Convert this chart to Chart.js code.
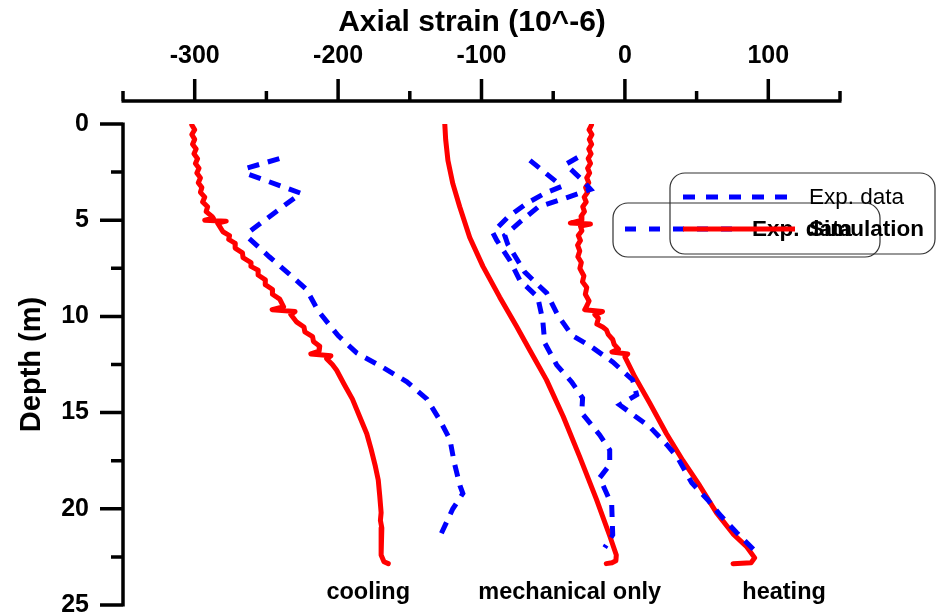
<!DOCTYPE html>
<html>
<head>
<meta charset="utf-8">
<script src="https://cdn.jsdelivr.net/npm/chart.js@4.4.1/dist/chart.umd.min.js"></script>
<style>
  body { margin: 0; background: #fff; }
  #wrap { width: 936px; height: 616px; }
</style>
</head>
<body>
<div id="wrap"><canvas id="strainChart" width="936" height="616"></canvas></div>
<script>
// tick values
var strainTicks = [-300, -200, -100, 0, 100];
var strainMinor = [-350, -250, -150, -50, 50, 150];
var depthTicks = [0, 5, 10, 15, 20, 25];
var depthMinor = [2.5, 7.5, 12.5, 17.5, 22.5];

// cooling case
var coolSimStrain = [-302, -300, -302, -300, -301.5, -299, -300.5, -298, -299.5, -297, -298.5, -296, -297.5, -295, -296, -293, -294.5, -291, -292, -288, -287, -293, -278, -284, -280.3, -275.7, -276.3, -271.7, -271.8, -266.7, -266.3, -260.7, -260.8, -255.7, -255.8, -250.7, -250.8, -245.7, -245.8, -240.7, -238, -246, -230, -233, -228.8, -223.8, -223.2, -217.8, -217.2, -212.8, -213.2, -219, -205, -208, -204, -201, -196, -190, -185, -180, -177, -174, -172, -171, -170, -170.5, -169.5, -170, -170, -170, -168, -165];
var coolSimDepth = [0.05, 0.3, 0.55, 0.8, 1.05, 1.3, 1.55, 1.8, 2.05, 2.3, 2.55, 2.8, 3.05, 3.3, 3.55, 3.8, 4.05, 4.3, 4.55, 4.8, 4.9, 5.0, 5.05, 5.15, 5.6, 5.8, 6.0, 6.2, 6.45, 6.7, 6.95, 7.2, 7.4, 7.6, 7.85, 8.1, 8.35, 8.6, 8.85, 9.1, 9.5, 9.65, 9.75, 9.9, 10.3, 10.55, 10.8, 11.05, 11.3, 11.55, 11.8, 11.95, 12.05, 12.2, 12.5, 12.8, 13.5, 14.3, 15.2, 16.1, 16.9, 17.8, 18.5, 19.3, 20.2, 20.6, 21.0, 21.4, 21.8, 22.4, 22.75, 22.85];
var coolExpStrain = [-241, -264, -263, -226, -262, -262, -248, -234, -222, -214, -200, -187, -170, -152, -138, -129, -122, -119, -115, -113, -120, -130];
var coolExpDepth = [1.8, 2.3, 2.6, 3.6, 5.6, 5.95, 6.9, 7.8, 8.6, 9.7, 11.0, 11.9, 12.6, 13.4, 14.3, 15.4, 16.4, 17.6, 18.8, 19.2, 20.0, 21.6];

// mechanical only case
var mechSimStrain = [-125.6, -125, -123.4, -120, -115.2, -108.2, -99, -87.3, -75.7, -66.4, -54.7, -43, -31.5, -19.9, -10.6, -6, -6.3, -9, -13];
var mechSimDepth = [0, 0.8, 1.9, 3.1, 4.3, 5.9, 7.4, 9.0, 10.5, 11.75, 13.3, 15.2, 17.3, 19.5, 21.4, 22.4, 22.7, 22.8, 22.85];
var mechExpStrain = [-66.2, -43.9, -55.8, -68.4, -81.7, -92.2, -89.4, -80.3, -73.3, -60.8, -57.3, -55.9, -47.5, -37.1, -29.5, -30.1, -17.6, -10.6, -10.6, -17.6, -9.2, -8.5, -14.1];
var mechExpDepth = [1.89, 3.24, 3.6, 4.12, 4.85, 5.63, 6.04, 7.08, 8.12, 9.0, 10.19, 11.38, 12.53, 13.41, 14.24, 15.02, 16.16, 16.94, 17.71, 18.39, 19.79, 21.35, 22.02];

// heating case
var heatSimStrain = [-23.3, -25, -23, -24.8, -23.2, -25.2, -23.6, -25.6, -24, -26, -24.6, -26.6, -25.2, -27.4, -26, -28.4, -27, -29.4, -28.2, -30.6, -30, -38, -24, -31, -30, -32.5, -31, -33, -31.5, -32.8, -30.4, -31.4, -28.6, -29.6, -26.6, -27.6, -25, -26.5, -28, -15.6, -21, -18.5, -19.6, -15.5, -12.9, -11.5, -8.5, -7.5, -4.5, -9, 2, 0, 7, 17.3, 29, 40.5, 52.2, 63.8, 75.4, 84.7, 90.5, 88, 75.4];
var heatSimDepth = [0.05, 0.3, 0.55, 0.8, 1.05, 1.3, 1.55, 1.8, 2.05, 2.3, 2.55, 2.8, 3.05, 3.3, 3.55, 3.8, 4.05, 4.3, 4.55, 4.8, 5.0, 5.15, 5.2, 5.3, 5.55, 5.8, 6.05, 6.3, 6.6, 6.9, 7.2, 7.5, 7.9, 8.2, 8.5, 8.85, 9.2, 9.45, 9.65, 9.75, 9.9, 10.1, 10.4, 10.55, 10.7, 10.95, 11.2, 11.45, 11.7, 11.85, 11.95, 12.1, 13.15, 14.5, 16.1, 17.5, 18.8, 20.2, 21.3, 21.95, 22.55, 22.8, 22.85];
var heatExpStrain = [-33, -41.3, -29.5, -23.9, -39.9, -60.8, -73.3, -83.8, -81.7, -69.8, -54.5, -46.8, -37.1, -23.2, -8.5, 5.4, 8.2, -3.6, 17.3, 29.2, 36.8, 46.6, 57.7, 66.1, 78, 91.9];
var heatExpDepth = [1.74, 2.1, 2.93, 3.4, 3.81, 4.33, 5.1, 5.79, 6.25, 7.7, 8.79, 9.93, 10.97, 11.59, 12.37, 13.3, 14.08, 14.6, 15.74, 16.67, 17.35, 18.65, 19.53, 20.3, 21.24, 22.28];

// case names written under the curves
var caseNames = ['cooling', 'mechanical only', 'heating'];
var caseNameX = [-179, -38.5, 111];

var RED = '#ff0000';
var BLUE = '#0000ff';
var FONT = "'Liberation Sans', Arial, sans-serif";

function pairUp(xs, ys) {
    return xs.map(function (v, i) { return { x: v, y: ys[i] }; });
}

function simSet(xs, ys) {
    return { data: pairUp(xs, ys), borderColor: RED, borderWidth: 5, showLine: true, pointRadius: 0, fill: false, borderJoinStyle: 'round', borderCapStyle: 'round' };
}
function expSet(xs, ys) {
    return { data: pairUp(xs, ys), borderColor: BLUE, borderWidth: 5, borderDash: [12, 9], showLine: true, pointRadius: 0, fill: false };
}

// axis lines, tick marks, title, case names and the two legend boxes
var decorations = {
    id: 'decorations',
    afterDraw: function (chart) {
        var ctx = chart.ctx;
        var xs = chart.scales.x, ys = chart.scales.y;
        var axisY = 101;
        ctx.save();
        ctx.strokeStyle = '#000';
        ctx.lineWidth = 3.5;
        ctx.lineCap = 'butt';

        // top strain axis
        ctx.beginPath();
        ctx.moveTo(xs.left - 1.5, axisY);
        ctx.lineTo(xs.right + 1.5, axisY);
        strainTicks.forEach(function (v) {
            var p = xs.getPixelForValue(v);
            ctx.moveTo(p, axisY);
            ctx.lineTo(p, axisY - 22);
        });
        strainMinor.forEach(function (v) {
            var p = xs.getPixelForValue(v);
            ctx.moveTo(p, axisY);
            ctx.lineTo(p, axisY - 10);
        });
        ctx.stroke();

        // left depth axis
        var axisX = ys.right;
        ctx.beginPath();
        ctx.moveTo(axisX, ys.getPixelForValue(0) - 1.5);
        ctx.lineTo(axisX, ys.getPixelForValue(25) + 1.5);
        depthTicks.forEach(function (v) {
            var p = ys.getPixelForValue(v);
            ctx.moveTo(axisX, p);
            ctx.lineTo(axisX - 23, p);
        });
        depthMinor.forEach(function (v) {
            var p = ys.getPixelForValue(v);
            ctx.moveTo(axisX, p);
            ctx.lineTo(axisX - 12, p);
        });
        ctx.stroke();

        ctx.fillStyle = '#000';
        ctx.textAlign = 'center';
        ctx.textBaseline = 'middle';
        ctx.font = 'bold 30px ' + FONT;
        ctx.fillText('Axial strain (10^-6)', 472, 23);

        // case names
        ctx.font = 'bold 23.5px ' + FONT;
        caseNames.forEach(function (t, i) {
            ctx.fillText(t, xs.getPixelForValue(caseNameX[i]), ys.getPixelForValue(24.35));
        });

        // legend boxes (two overlapping copies)
        function box(x, y, w, h, r) {
            ctx.beginPath();
            ctx.moveTo(x + r, y);
            ctx.arcTo(x + w, y, x + w, y + h, r);
            ctx.arcTo(x + w, y + h, x, y + h, r);
            ctx.arcTo(x, y + h, x, y, r);
            ctx.arcTo(x, y, x + w, y, r);
            ctx.closePath();
            ctx.strokeStyle = '#333';
            ctx.lineWidth = 1.2;
            ctx.stroke();
        }
        function sample(x1, x2, y, color, dash) {
            ctx.beginPath();
            ctx.setLineDash(dash);
            ctx.strokeStyle = color;
            ctx.lineWidth = 5;
            ctx.moveTo(x1, y);
            ctx.lineTo(x2, y);
            ctx.stroke();
            ctx.setLineDash([]);
        }
        ctx.textAlign = 'left';

        box(613, 203, 267, 54, 15);
        sample(625, 735, 229, BLUE, [11, 13]);
        ctx.fillStyle = '#000';
        ctx.font = 'bold 22.5px ' + FONT;
        ctx.fillText('Exp. data', 752, 230);

        box(670, 173, 265, 81, 15);
        sample(683, 790, 197, BLUE, [12, 11]);
        sample(683, 795, 229, RED, []);
        ctx.fillStyle = '#000';
        ctx.font = '22.5px ' + FONT;
        ctx.fillText('Exp. data', 809, 198);
        ctx.font = 'bold 22.5px ' + FONT;
        ctx.fillText('Simulation', 809, 230);

        ctx.restore();
    }
};

new Chart(document.getElementById('strainChart'), {
    type: 'scatter',
    data: {
        datasets: [
            expSet(coolExpStrain, coolExpDepth),
            expSet(mechExpStrain, mechExpDepth),
            expSet(heatExpStrain, heatExpDepth),
            simSet(coolSimStrain, coolSimDepth),
            simSet(mechSimStrain, mechSimDepth),
            simSet(heatSimStrain, heatSimDepth)
        ]
    },
    options: {
        responsive: false,
        animation: false,
        devicePixelRatio: 1,
        layout: { padding: { left: 0, top: 0, right: 96, bottom: 11 } },
        plugins: { legend: { display: false }, tooltip: { enabled: false } },
        scales: {
            x: {
                type: 'linear',
                position: 'top',
                min: -350,
                max: 150,
                afterBuildTicks: function (s) { s.ticks = strainTicks.map(function (v) { return { value: v }; }); },
                afterFit: function (s) { s.height = 124; s.paddingLeft = 0; s.paddingRight = 0; },
                grid: { display: false, drawTicks: true, tickLength: 45 },
                border: { display: false },
                ticks: { color: '#000', font: { family: FONT, size: 25, weight: 'bold' }, padding: 8, maxRotation: 0 },
                title: { display: false }
            },
            y: {
                type: 'linear',
                min: 0,
                max: 25,
                reverse: true,
                afterBuildTicks: function (s) { s.ticks = depthTicks.map(function (v) { return { value: v }; }); },
                afterFit: function (s) { s.width = 123; s.paddingTop = 0; s.paddingBottom = 0; },
                grid: { display: false, drawTicks: true, tickLength: 23 },
                border: { display: false },
                ticks: { color: '#000', font: { family: FONT, size: 25, weight: 'bold' }, padding: 11 },
                title: { display: true, text: 'Depth (m)', color: '#000', font: { family: FONT, size: 29, weight: 'bold' }, padding: { top: 15, bottom: 0 } }
            }
        }
    },
    plugins: [decorations]
});
</script>
</body>
</html>
